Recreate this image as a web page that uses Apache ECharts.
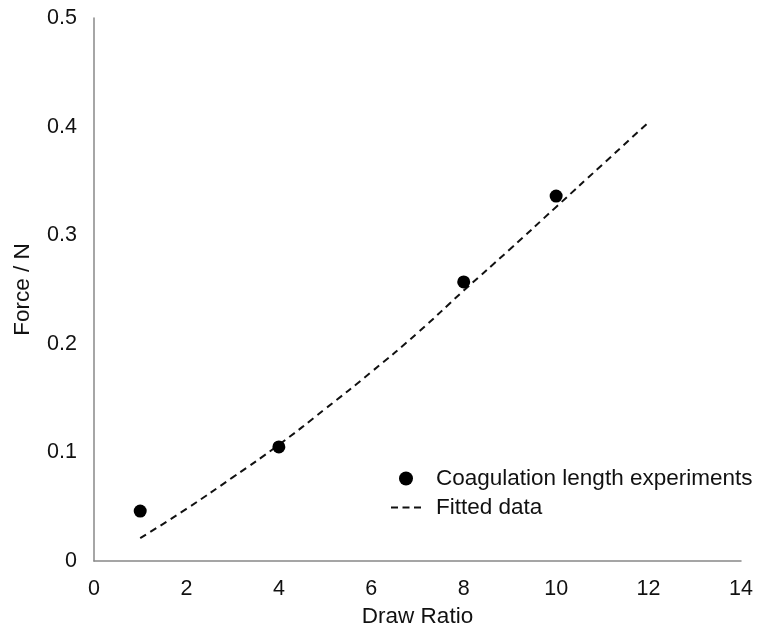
<!DOCTYPE html>
<html>
<head>
<meta charset="utf-8">
<script src="https://cdn.jsdelivr.net/npm/echarts@6/dist/echarts.min.js"></script>
<style>
  html, body { margin: 0; padding: 0; background: #fff; }
  #chart { width: 769px; height: 637px; }
</style>
</head>
<body>
<div id="chart"></div>
<script>
// Measured force versus draw ratio
const drawRatio = [1, 4, 8, 10];
const force = [0.046, 0.105, 0.257, 0.336];

// Fitted curve
const fitRatio = [1, 2, 3, 4, 5, 6, 7, 8, 9, 10, 11, 12];
const fitForce = [0.021, 0.048, 0.077, 0.107, 0.140, 0.174, 0.210, 0.249, 0.287, 0.326, 0.365, 0.404];

const xTicks = [0, 2, 4, 6, 8, 10, 12, 14];
const yTicks = [0, 0.1, 0.2, 0.3, 0.4, 0.5];

const font = 'Liberation Sans, Arial, sans-serif';
const textColor = '#111';

// three short dashes for the fitted-line legend key
const dashIcon = 'path://M0,6 h7 v2.2 h-7 z M11.5,6 h7 v2.2 h-7 z M23,6 h7 v2.2 h-7 z';

const chart = echarts.init(document.getElementById('chart'));
chart.setOption({
  animation: false,
  backgroundColor: '#fff',
  grid: { left: 94, right: 28, top: 18, bottom: 76, containLabel: false },
  legend: {
    orient: 'vertical',
    left: 386,
    top: 462,
    itemGap: 6,
    itemWidth: 30,
    itemHeight: 14,
    textStyle: { fontFamily: font, fontSize: 22.5, color: textColor, padding: [0, 0, 0, 10] },
    data: [
      { name: 'Coagulation length experiments', icon: 'circle', itemStyle: { color: '#000' } },
      { name: 'Fitted data', icon: dashIcon, itemStyle: { color: '#111' } }
    ]
  },
  xAxis: {
    type: 'value',
    min: xTicks[0],
    max: xTicks[xTicks.length - 1],
    interval: 2,
    name: 'Draw Ratio',
    nameLocation: 'middle',
    nameGap: 42,
    nameTextStyle: { fontFamily: font, fontSize: 22.5, color: textColor },
    axisLine: { show: true, lineStyle: { color: '#888', width: 1.5 } },
    axisTick: { show: false },
    splitLine: { show: false },
    axisLabel: { fontFamily: font, fontSize: 21.5, color: textColor, margin: 17 }
  },
  yAxis: {
    type: 'value',
    min: yTicks[0],
    max: yTicks[yTicks.length - 1],
    interval: 0.1,
    name: 'Force / N',
    nameLocation: 'middle',
    nameGap: 60,
    nameTextStyle: { fontFamily: font, fontSize: 22.5, color: textColor },
    axisLine: { show: true, lineStyle: { color: '#888', width: 1.5 } },
    axisTick: { show: false },
    splitLine: { show: false },
    axisLabel: { fontFamily: font, fontSize: 21.5, color: textColor, margin: 17 }
  },
  series: [
    {
      name: 'Coagulation length experiments',
      type: 'scatter',
      symbol: 'circle',
      symbolSize: 13,
      itemStyle: { color: '#000', opacity: 1 },
      data: drawRatio.map((x, i) => [x, force[i]]),
      z: 3
    },
    {
      name: 'Fitted data',
      type: 'line',
      smooth: true,
      showSymbol: false,
      symbol: 'none',
      lineStyle: { color: '#111', width: 2, type: [7, 5] },
      itemStyle: { color: '#111' },
      data: fitRatio.map((x, i) => [x, fitForce[i]]),
      z: 2
    }
  ]
});
</script>
</body>
</html>
